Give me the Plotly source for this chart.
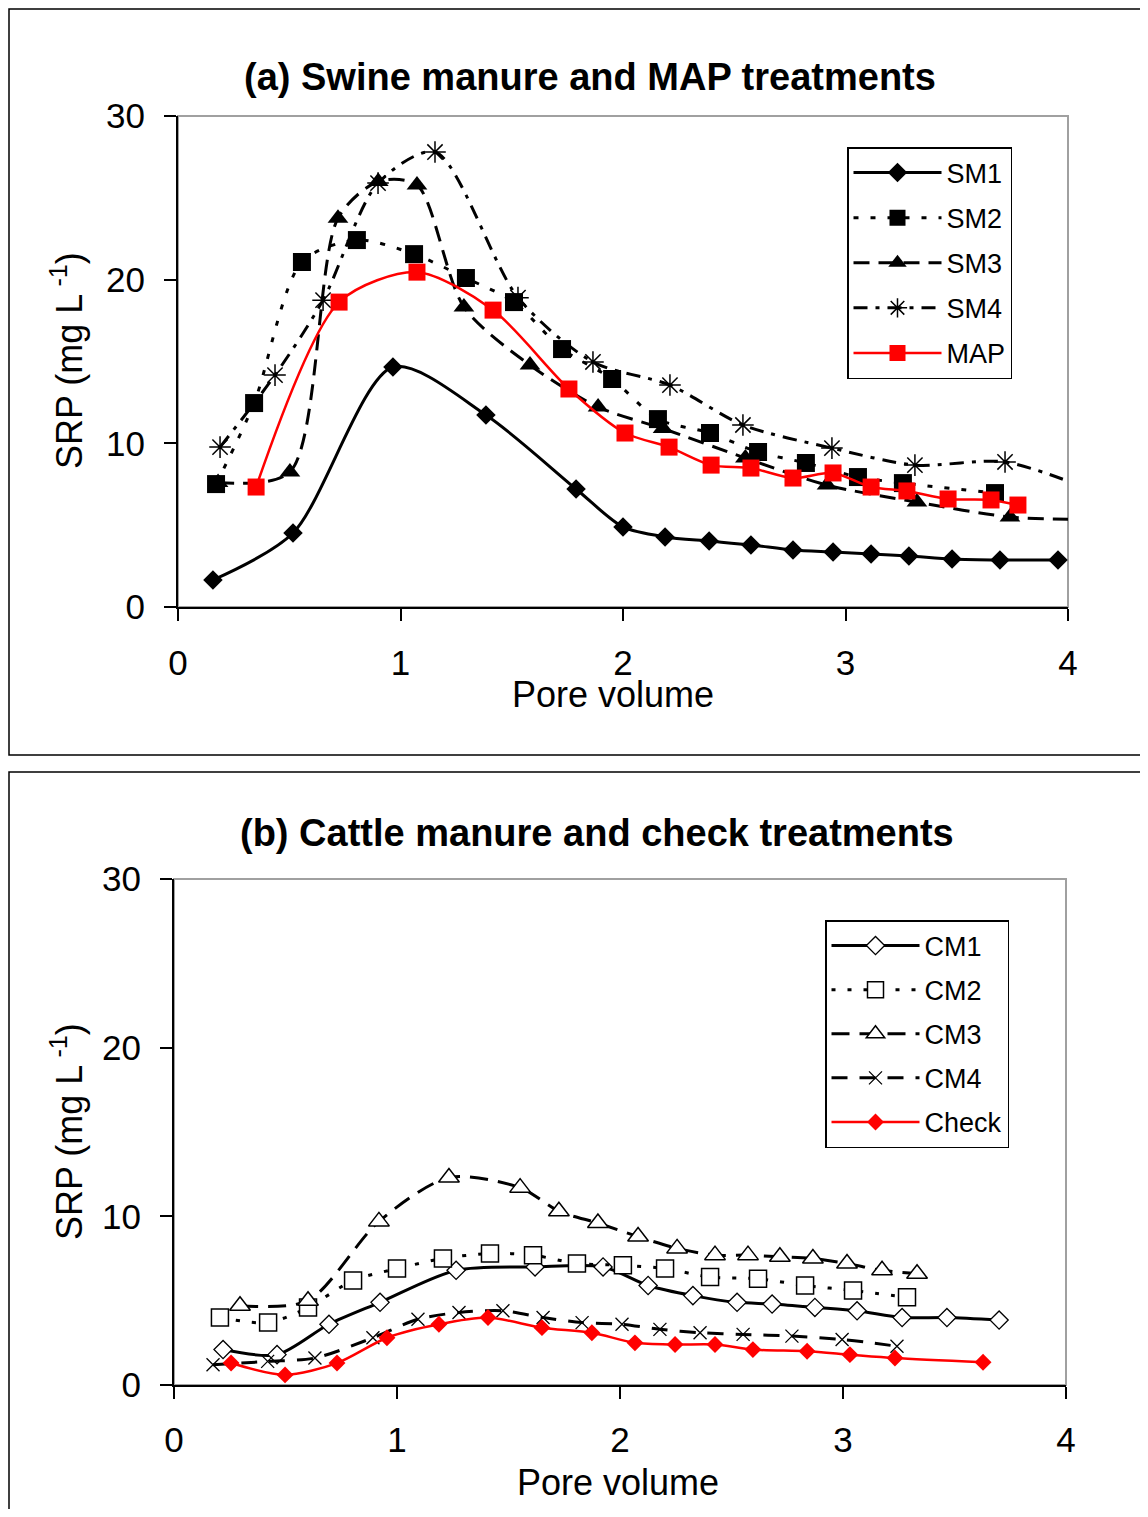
import plotly.graph_objects as go

# ---------------- Panel (a) data ----------------
sm1_x = [0.157, 0.517, 0.966, 1.384, 1.789, 2.00, 2.189, 2.387, 2.575, 2.764, 2.944, 3.115, 3.285, 3.479, 3.694, 3.955]
sm1_y = [1.65, 4.52, 14.66, 11.73, 7.21, 4.89, 4.28, 4.03, 3.79, 3.48, 3.36, 3.24, 3.12, 2.93, 2.87, 2.87]

sm2_x = [0.171, 0.342, 0.557, 0.804, 1.061, 1.294, 1.510, 1.726, 1.951, 2.157, 2.391, 2.607, 2.822, 3.056, 3.258, 3.672]
sm2_y = [7.51, 12.46, 21.08, 22.42, 21.56, 20.10, 18.63, 15.76, 13.93, 11.48, 10.63, 9.47, 8.80, 7.94, 7.57, 6.96]

sm3_x = [0.18, 0.503, 0.719, 0.90, 1.074, 1.285, 1.582, 1.888, 2.18, 2.55, 2.917, 3.321, 3.739, 4.12]
sm3_y = [7.6, 8.25, 23.76, 26.0, 25.78, 18.33, 14.78, 12.22, 10.9, 9.1, 7.45, 6.41, 5.50, 5.35]

sm4_x = [0.189, 0.436, 0.652, 0.899, 1.155, 1.528, 1.865, 2.211, 2.539, 2.939, 3.312, 3.717, 4.15]
sm4_y = [9.77, 14.17, 18.75, 25.9, 27.8, 18.9, 14.97, 13.56, 11.12, 9.71, 8.67, 8.86, 6.9]

map_x = [0.351, 0.724, 1.074, 1.416, 1.757, 2.009, 2.207, 2.396, 2.575, 2.764, 2.944, 3.115, 3.276, 3.461, 3.654, 3.775]
map_y = [7.33, 18.63, 20.46, 18.14, 13.32, 10.63, 9.77, 8.67, 8.49, 7.88, 8.19, 7.33, 7.09, 6.60, 6.54, 6.23]

# ---------------- Panel (b) data ----------------
cm1_x = [0.22, 0.462, 0.695, 0.924, 1.265, 1.619, 1.924, 2.126, 2.327, 2.525, 2.682, 2.874, 3.063, 3.265, 3.466, 3.70]
cm1_y = [2.1, 1.8, 3.6, 4.9, 6.8, 7.0, 7.0, 5.9, 5.3, 4.9, 4.8, 4.6, 4.4, 4.0, 4.0, 3.85]

cm2_x = [0.206, 0.422, 0.601, 0.803, 1.0, 1.206, 1.417, 1.61, 1.807, 2.013, 2.202, 2.404, 2.619, 2.83, 3.045, 3.287]
cm2_y = [4.0, 3.7, 4.6, 6.2, 6.9, 7.5, 7.8, 7.7, 7.2, 7.1, 6.9, 6.4, 6.3, 5.9, 5.6, 5.2]

cm3_x = [0.296, 0.601, 0.919, 1.233, 1.552, 1.726, 1.901, 2.081, 2.256, 2.426, 2.574, 2.717, 2.865, 3.018, 3.175, 3.332]
cm3_y = [4.7, 5.0, 9.7, 12.3, 11.7, 10.3, 9.6, 8.8, 8.1, 7.7, 7.7, 7.6, 7.5, 7.2, 6.8, 6.6]

cm4_x = [0.175, 0.42, 0.632, 0.892, 1.094, 1.278, 1.475, 1.655, 1.83, 2.009, 2.179, 2.359, 2.552, 2.771, 2.996, 3.242]
cm4_y = [1.2, 1.4, 1.6, 2.8, 3.9, 4.3, 4.4, 4.0, 3.7, 3.6, 3.3, 3.1, 3.0, 2.9, 2.7, 2.3]

chk_x = [0.256, 0.498, 0.731, 0.955, 1.188, 1.408, 1.65, 1.874, 2.067, 2.247, 2.426, 2.596, 2.839, 3.031, 3.233, 3.628]
chk_y = [1.3, 0.6, 1.3, 2.8, 3.6, 4.0, 3.4, 3.1, 2.5, 2.4, 2.4, 2.1, 2.0, 1.8, 1.6, 1.35]

x_ticks = [0, 1, 2, 3, 4]
y_ticks = [0, 10, 20, 30]
title_a = "<b>(a) Swine manure and MAP treatments</b>"
title_b = "<b>(b) Cattle manure and check treatments</b>"
x_title = "Pore volume"
y_title = "SRP (mg L<sup> -1</sup>)"

# figure fits inside the 1148x1517 window with the 8px body margin
OFF = 8
W, H = 1148 - 2 * OFF, 1517 - 2 * OFF
FONT = "Liberation Sans, Arial, sans-serif"


def px(x):
    return (x - OFF) / W


def py(y):
    return 1 - (y - OFF) / H


fig = go.Figure()


def add(xs, ys, name, xa, ya, legend, color, dash, width, symbol, msize, mline=0, mfill=None):
    fig.add_trace(go.Scatter(
        x=xs, y=ys, name=name, mode="lines+markers",
        xaxis=xa, yaxis=ya, legend=legend, legendgroup=name,
        line=dict(color=color, dash=dash, width=width, shape="spline", smoothing=0.8),
        marker=dict(symbol=symbol, size=msize, color=mfill if mfill else color,
                    line=dict(color=color, width=mline)),
    ))


# panel a
add(sm1_x, sm1_y, "SM1", "x", "y", "legend", "black", "solid", 3, "diamond", 15)
add(sm2_x, sm2_y, "SM2", "x", "y", "legend", "black", "5px,12px", 3, "square", 18)
add(sm3_x, sm3_y, "SM3", "x", "y", "legend", "black", "16px,9px", 3, "triangle-up", 18)
add(sm4_x, sm4_y, "SM4", "x", "y", "legend", "black", "14px,8px,4px,8px", 3, "asterisk-open", 18, mline=1.5)
add(map_x, map_y, "MAP", "x", "y", "legend", "#ff0000", "solid", 2.5, "square", 17)

# panel b
add(cm1_x, cm1_y, "CM1", "x2", "y2", "legend2", "black", "solid", 3, "diamond", 14, mline=1.3, mfill="white")
add(cm2_x, cm2_y, "CM2", "x2", "y2", "legend2", "black", "4px,12px", 3, "square", 17, mline=1.5, mfill="white")
add(cm3_x, cm3_y, "CM3", "x2", "y2", "legend2", "black", "18px,10px", 3, "triangle-up", 18, mline=1.5, mfill="white")
add(cm4_x, cm4_y, "CM4", "x2", "y2", "legend2", "black", "16px,12px", 3, "x-thin-open", 13, mline=1.3)
add(chk_x, chk_y, "Check", "x2", "y2", "legend2", "#ff0000", "solid", 2.5, "diamond", 13)

axis_common = dict(
    showgrid=False, zeroline=False, showline=True, linecolor="black", linewidth=2,
    ticks="outside", ticklen=12, tickwidth=2, tickcolor="black",
    tickfont=dict(family=FONT, size=35, color="black"), automargin=False,
)

fig.update_layout(
    width=W, height=H,
    margin=dict(l=0, r=0, t=0, b=0, pad=0, autoexpand=False),
    paper_bgcolor="white", plot_bgcolor="white",
    font=dict(family=FONT, color="black"),
    xaxis=dict(domain=[px(178), px(1068)], range=[0, 4], tickvals=x_ticks, anchor="y",
               ticklabelstandoff=12, **axis_common),
    yaxis=dict(domain=[py(607), py(116)], range=[0, 30], tickvals=y_ticks, anchor="x",
               ticklabelstandoff=12, **axis_common),
    xaxis2=dict(domain=[px(174), px(1066)], range=[0, 4], tickvals=x_ticks, anchor="y2",
                ticklabelstandoff=11, **axis_common),
    yaxis2=dict(domain=[py(1385), py(879)], range=[0, 30], tickvals=y_ticks, anchor="x2",
                ticklabelstandoff=12, **axis_common),
    legend=dict(x=px(847), y=py(147), xanchor="left", yanchor="top",
                bgcolor="white", bordercolor="black", borderwidth=1.5,
                font=dict(family=FONT, size=27, color="black"),
                tracegroupgap=7, itemwidth=88),
    legend2=dict(x=px(825), y=py(920), xanchor="left", yanchor="top",
                 bgcolor="white", bordercolor="black", borderwidth=1.5,
                 font=dict(family=FONT, size=27, color="black"),
                 tracegroupgap=6, itemwidth=88),
    showlegend=True,
)

shapes = [
    # outer frames
    dict(type="rect", xref="paper", yref="paper", x0=px(9), x1=1.02, y0=py(755), y1=py(9),
         line=dict(color="black", width=1.5), layer="below"),
    dict(type="rect", xref="paper", yref="paper", x0=px(9), x1=1.02, y0=-0.02, y1=py(772),
         line=dict(color="black", width=1.5), layer="below"),
    # plot area frames (gray)
    dict(type="rect", xref="x domain", yref="y domain", x0=0, x1=1, y0=0, y1=1,
         line=dict(color="#a0a0a0", width=2), layer="below"),
    dict(type="rect", xref="x2 domain", yref="y2 domain", x0=0, x1=1, y0=0, y1=1,
         line=dict(color="#a0a0a0", width=2), layer="below"),
]
fig.update_layout(shapes=shapes)

ann_font_title = dict(family=FONT, size=38, color="black")
ann_font = dict(family=FONT, size=36, color="black")
annotations = [
    dict(text=title_a, x=px(590), y=py(77), xref="paper", yref="paper", showarrow=False,
         xanchor="center", yanchor="middle", font=ann_font_title),
    dict(text=title_b, x=px(597), y=py(833), xref="paper", yref="paper", showarrow=False,
         xanchor="center", yanchor="middle", font=ann_font_title),
    dict(text=x_title, x=px(613), y=py(694), xref="paper", yref="paper", showarrow=False,
         xanchor="center", yanchor="middle", font=ann_font),
    dict(text=x_title, x=px(618), y=py(1482), xref="paper", yref="paper", showarrow=False,
         xanchor="center", yanchor="middle", font=ann_font),
    dict(text=y_title, x=px(67), y=py(361), xref="paper", yref="paper", showarrow=False,
         xanchor="center", yanchor="middle", textangle=-90, font=ann_font),
    dict(text=y_title, x=px(67), y=py(1132), xref="paper", yref="paper", showarrow=False,
         xanchor="center", yanchor="middle", textangle=-90, font=ann_font),
]
fig.update_layout(annotations=annotations)

fig.write_html("out.html", config={"displayModeBar": False})
